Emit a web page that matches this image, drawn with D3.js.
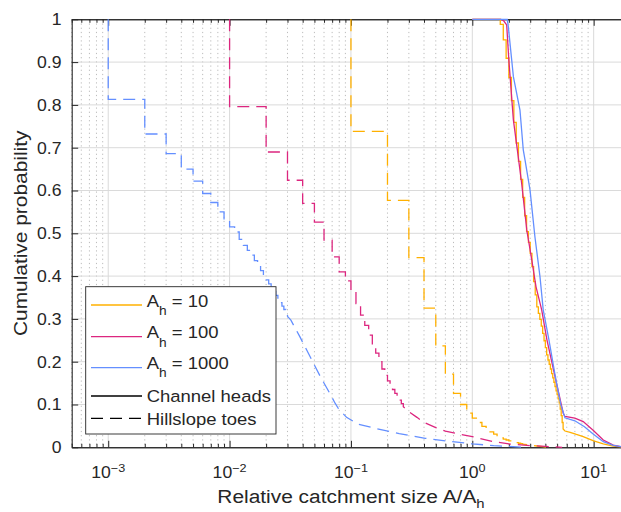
<!DOCTYPE html>
<html>
<head>
<meta charset="utf-8">
<script src="https://cdn.jsdelivr.net/npm/d3@7"></script>
<style>
  body { margin: 0; background: #fff; }
  svg { display: block; }
  text { font-family: "Liberation Sans", Arial, Helvetica, sans-serif; fill: #262626; }
</style>
</head>
<body>
<svg id="chart" width="621" height="512"></svg>
<script>
// ---- data -------------------------------------------------------------
const areaThresholds = [10, 100, 1000];              // A_h values
const seriesColors = ["#FFB000", "#DC267F", "#648FFF"];
const xTickExponents = [-3, -2, -1, 0, 1];
const yTickValues = [0, 0.1, 0.2, 0.3, 0.4, 0.5, 0.6, 0.7, 0.8, 0.9, 1];
const yTickLabels = ["0", "0.1", "0.2", "0.3", "0.4", "0.5", "0.6", "0.7", "0.8", "0.9", "1"];
const xDomain = [5e-4, 20];

// Hillslope toes: exceedance probability after each step at A/A_h = k/A_h (k = 1, 2, ...)
const toeSteps10 = [0.738, 0.577, 0.443, 0.325, 0.237, 0.171, 0.126, 0.100, 0.080, 0.068,
  0.058, 0.049, 0.042, 0.036, 0.031, 0.026, 0.022, 0.019, 0.017, 0.015,
  0.0135, 0.012, 0.011, 0.0095, 0.0085, 0.0075];
const toeTailX10 = [3.0, 3.4, 3.8, 4.2];
const toeTailY10 = [0.005, 0.003, 0.0015, 0];

const toeSteps100 = [0.796, 0.690, 0.624, 0.570, 0.526, 0.484, 0.445, 0.410, 0.389, 0.364,
  0.336, 0.309, 0.285, 0.262, 0.240, 0.220, 0.200, 0.183, 0.168, 0.155,
  0.145, 0.135, 0.126, 0.118, 0.110, 0.102, 0.095];
const toeTailX100 = [0.3, 0.35, 0.4, 0.5, 0.6, 0.8, 1.0, 1.5, 2, 3, 4, 5.5];
const toeTailY100 = [0.083, 0.070, 0.058, 0.046, 0.038, 0.030, 0.025, 0.013, 0.008, 0.004, 0.002, 0];

const toeSteps1000 = [0.813, 0.732, 0.686, 0.650, 0.622, 0.593, 0.572, 0.550, 0.529, 0.515,
  0.503, 0.486, 0.472, 0.460, 0.449, 0.436, 0.424, 0.413, 0.402, 0.391,
  0.382, 0.373, 0.364, 0.355, 0.346, 0.338, 0.330, 0.322, 0.314, 0.306];
const toeTailX1000 = [0.032, 0.038, 0.046, 0.056, 0.067, 0.074, 0.079, 0.092, 0.115, 0.16, 0.25, 0.41, 0.6, 1.0, 1.5, 2.0, 2.6];
const toeTailY1000 = [0.297, 0.258, 0.212, 0.165, 0.126, 0.103, 0.090, 0.070, 0.054, 0.044, 0.032, 0.021, 0.015, 0.008, 0.004, 0.002, 0];

// Channel heads, A_h = 10: steps at k/10 starting from k = 10
const headFirstStep10 = 10;
const headSteps10 = [1, 1, 1, 1, 1, 1, 1, 0.988, 0.952, 0.909,
  0.864, 0.810, 0.759, 0.711, 0.668, 0.626, 0.584, 0.541, 0.504, 0.479,
  0.453, 0.422, 0.387, 0.356, 0.328, 0.313, 0.299, 0.283, 0.266, 0.249,
  0.233, 0.216, 0.204, 0.194, 0.183, 0.172, 0.162, 0.152, 0.142, 0.132,
  0.123, 0.113, 0.104, 0.089, 0.074, 0.058, 0.043];
const headTailX10 = [5.8, 6.4, 7.2, 8.2, 10, 12, 14.5, 17, 20];
const headTailY10 = [0.038, 0.035, 0.030, 0.025, 0.015, 0.008, 0.003, 0.001, 0];

const headX100 = [1.0, 1.72, 1.82, 1.92, 2.0, 2.18, 2.35, 2.55, 2.81, 3.09, 3.35, 3.73, 4.12, 4.67, 5.62, 5.8, 7.0, 8.2, 9.9, 12.0, 14.5, 16.7, 20];
const headY100 = [1, 1, 0.996, 0.987, 0.905, 0.765, 0.695, 0.617, 0.508, 0.438, 0.375, 0.321, 0.251, 0.181, 0.079, 0.072, 0.068, 0.060, 0.040, 0.017, 0.005, 0.0014, 0];

const headX1000 = [1.0, 1.94, 1.98, 2.18, 2.47, 2.63, 2.72, 2.99, 3.28, 3.61, 3.84, 4.28, 4.89, 5.37, 5.8, 7.0, 8.4, 9.9, 12.0, 14.5, 16.7, 20];
const headY1000 = [1, 1, 0.983, 0.866, 0.788, 0.695, 0.671, 0.601, 0.492, 0.399, 0.321, 0.251, 0.157, 0.099, 0.069, 0.062, 0.048, 0.031, 0.013, 0.0047, 0.0014, 0];

const legendHeads = "Channel heads";
const legendToes = "Hillslope toes";

// ---- layout -----------------------------------------------------------
const plot = { left: 71.7, right: 630.2, top: 19.3, bottom: 447.3 };
const axisColor = "#262626";
const textStretch = 1.1;
const dash = "12,7";

const svg = d3.select("#chart");
svg.append("rect").attr("width", 621).attr("height", 512).attr("fill", "#fff");

const x = d3.scaleLog().domain(xDomain).range([plot.left, plot.right]);
const y = d3.scaleLinear().domain([0, 1]).range([plot.bottom, plot.top]);

const majorX = xTickExponents.map(e => Math.pow(10, e));
const minorX = [];
for (let e = -4; e <= 1; e++) {
  for (let m = 2; m <= 9; m++) {
    const v = m * Math.pow(10, e);
    if (v >= xDomain[0] && v <= xDomain[1]) minorX.push(v);
  }
}

// grid
const grid = svg.append("g");
grid.selectAll(".minor").data(minorX).join("line")
  .attr("x1", d => x(d)).attr("x2", d => x(d))
  .attr("y1", plot.top).attr("y2", plot.bottom)
  .attr("stroke", "#b4b4b4").attr("stroke-width", 0.9).attr("stroke-dasharray", "1.2,3");
grid.selectAll(".majx").data(majorX).join("line")
  .attr("x1", d => x(d)).attr("x2", d => x(d))
  .attr("y1", plot.top).attr("y2", plot.bottom)
  .attr("stroke", "#dadada").attr("stroke-width", 1);
grid.selectAll(".majy").data(yTickValues.slice(1, -1)).join("line")
  .attr("x1", plot.left).attr("x2", plot.right)
  .attr("y1", d => y(d)).attr("y2", d => y(d))
  .attr("stroke", "#dadada").attr("stroke-width", 1);

// axes (ticks point inward)
const axes = svg.append("g");
function styleAxis(g) {
  g.selectAll("path, line").attr("stroke", axisColor);
  g.select(".domain").attr("stroke-width", 1.1);
  g.selectAll("text").remove();
}
axes.append("g").attr("transform", `translate(0,${plot.bottom})`)
  .call(d3.axisBottom(x).tickValues(majorX).tickSizeInner(-6.5).tickSizeOuter(0).tickFormat(""))
  .call(styleAxis);
axes.append("g").attr("transform", `translate(0,${plot.bottom})`)
  .call(d3.axisBottom(x).tickValues(minorX).tickSizeInner(-3.5).tickSizeOuter(0).tickFormat(""))
  .call(styleAxis);
axes.append("g").attr("transform", `translate(0,${plot.top})`)
  .call(d3.axisTop(x).tickValues(majorX).tickSizeInner(-6.5).tickSizeOuter(0).tickFormat(""))
  .call(styleAxis);
axes.append("g").attr("transform", `translate(0,${plot.top})`)
  .call(d3.axisTop(x).tickValues(minorX).tickSizeInner(-3.5).tickSizeOuter(0).tickFormat(""))
  .call(styleAxis);
axes.append("g").attr("transform", `translate(${plot.left},0)`)
  .call(d3.axisLeft(y).tickValues(yTickValues).tickSizeInner(-6.5).tickSizeOuter(0).tickFormat(""))
  .call(styleAxis);

// text helper: Helvetica-like glyphs, slightly widened
function addText(parent, px, py, anchor, size, rotate) {
  const rot = rotate ? ` rotate(${rotate})` : "";
  return parent.append("text")
    .attr("transform", `translate(${px},${py})${rot} scale(${textStretch},1)`)
    .attr("text-anchor", anchor)
    .style("font-size", size + "px");
}

// tick labels
const labels = svg.append("g");
xTickExponents.forEach(e => {
  const t = addText(labels, x(Math.pow(10, e)), 478.3, "middle", 16);
  t.append("tspan").text("10");
  t.append("tspan").attr("dy", -6.8).style("font-size", "11.5px")
    .text(e < 0 ? "\u2212" + (-e) : String(e));
});
yTickValues.forEach((v, i) => {
  addText(labels, 61.5, y(v) + 5.8, "end", 16).text(yTickLabels[i]);
});

// axis titles
const xt = addText(labels, (plot.left + plot.right) / 2, 503.3, "middle", 19);
xt.append("tspan").text("Relative catchment size A/A");
xt.append("tspan").attr("dy", 5).style("font-size", "13.5px").text("h");
addText(labels, 27, (plot.top + plot.bottom) / 2, "middle", 19, -90).text("Cumulative probability");

// ---- data lines -------------------------------------------------------
svg.append("clipPath").attr("id", "plotClip").append("rect")
  .attr("x", plot.left - 2).attr("y", plot.top - 2)
  .attr("width", plot.right - plot.left + 4).attr("height", plot.bottom - plot.top + 4);
const dataLayer = svg.append("g").attr("clip-path", "url(#plotClip)");

const line = d3.line().x(d => x(d[0])).y(d => y(d[1]));

// staircase: at position xs[i] the probability drops to qs[i]
function stairPoints(xs, qs, start) {
  const pts = [[xs[0], start]];
  for (let i = 0; i < xs.length; i++) {
    if (i > 0) pts.push([xs[i], qs[i - 1]]);
    pts.push([xs[i], qs[i]]);
  }
  return pts;
}

const toeSeries = [
  { steps: toeSteps10, tx: toeTailX10, ty: toeTailY10 },
  { steps: toeSteps100, tx: toeTailX100, ty: toeTailY100 },
  { steps: toeSteps1000, tx: toeTailX1000, ty: toeTailY1000 }
];
toeSeries.forEach((s, i) => {
  const ah = areaThresholds[i];
  const xs = s.steps.map((_, k) => (k + 1) / ah);
  const pts = stairPoints(xs, s.steps, 1).concat(s.tx.map((v, j) => [v, s.ty[j]]));
  dataLayer.append("path").attr("d", line(pts))
    .attr("fill", "none").attr("stroke", seriesColors[i])
    .attr("stroke-width", 1.3).attr("stroke-dasharray", dash);
});

// channel heads
const head10X = headSteps10.map((_, k) => (headFirstStep10 + k) / areaThresholds[0]);
const head10Pts = stairPoints(head10X, headSteps10, 1)
  .concat(headTailX10.map((v, j) => [v, headTailY10[j]]));
const headSeries = [
  head10Pts,
  headX100.map((v, j) => [v, headY100[j]]),
  headX1000.map((v, j) => [v, headY1000[j]])
];
headSeries.forEach((pts, i) => {
  dataLayer.append("path").attr("d", line(pts))
    .attr("fill", "none").attr("stroke", seriesColors[i])
    .attr("stroke-width", 1.3);
});

// ---- legend -----------------------------------------------------------
const lg = svg.append("g");
lg.append("rect").attr("x", 85.7).attr("y", 286.7).attr("width", 190.3).attr("height", 147.3)
  .attr("fill", "#fff").attr("stroke", axisColor).attr("stroke-width", 0.9);
const rowLineY = [305, 336.7, 367.7, 396, 418.3];
const rowTextY = [306.7, 338.3, 369, 402.3, 425];
areaThresholds.forEach((ah, i) => {
  lg.append("line").attr("x1", 91).attr("x2", 142).attr("y1", rowLineY[i]).attr("y2", rowLineY[i])
    .attr("stroke", seriesColors[i]).attr("stroke-width", 1.3);
  const t = addText(lg, 146.7, rowTextY[i], "start", 16.8);
  t.append("tspan").text("A");
  t.append("tspan").attr("dy", 8.3).style("font-size", "12.5px").text("h");
  t.append("tspan").attr("dy", -8.3).text(" = " + ah);
});
lg.append("line").attr("x1", 91).attr("x2", 142).attr("y1", rowLineY[3]).attr("y2", rowLineY[3])
  .attr("stroke", "#000").attr("stroke-width", 1.3);
addText(lg, 146.7, rowTextY[3], "start", 16.8).text(legendHeads);
lg.append("line").attr("x1", 91).attr("x2", 142).attr("y1", rowLineY[4]).attr("y2", rowLineY[4])
  .attr("stroke", "#000").attr("stroke-width", 1.3).attr("stroke-dasharray", dash);
addText(lg, 146.7, rowTextY[4], "start", 16.8).text(legendToes);
</script>
</body>
</html>
